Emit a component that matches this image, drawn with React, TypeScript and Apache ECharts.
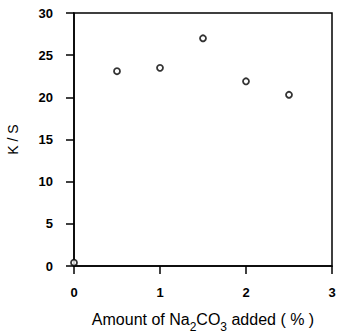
import React, { useEffect, useRef } from "react";
import * as echarts from "echarts";

const naAmounts = [0, 0.5, 1.0, 1.5, 2.0, 2.5];
const ksValues = [0.4, 23.1, 23.5, 27.0, 21.9, 20.3];
const xTicks = [0, 1, 2, 3];
const yTicks = [0, 5, 10, 15, 20, 25, 30];

export default function App() {
  const ref = useRef<HTMLDivElement>(null);
  useEffect(() => {
    if (!ref.current) return;
    const chart = echarts.init(ref.current, null, { renderer: "svg" });
    const font = "'Liberation Sans', Arial, sans-serif";
    chart.setOption({
      animation: false,
      backgroundColor: "#fff",
      grid: {
        left: 74,
        right: 6,
        top: 13,
        bottom: 70,
        outerBoundsMode: "none",
        containLabel: false,
        show: true,
        borderColor: "#000",
        borderWidth: 1.5,
      },
      xAxis: {
        type: "value",
        min: xTicks[0],
        max: xTicks[xTicks.length - 1],
        interval: 1,
        axisLine: { show: true, lineStyle: { color: "#000", width: 1.5 } },
        axisTick: { show: true, length: 8, lineStyle: { color: "#000", width: 1.5 } },
        splitLine: { show: false },
        axisLabel: {
          color: "#000",
          fontSize: 13,
          fontWeight: "bold",
          fontFamily: font,
          margin: 20,
          showMaxLabel: true,
        },
        name: "{a|Amount of Na}{s|2}{a|CO}{s|3}{a| added ( % )}",
        nameLocation: "middle",
        nameGap: 45,
        nameTextStyle: {
          rich: {
            a: { fontSize: 16, fontFamily: font, color: "#000", padding: [0, 0, 7, 0] },
            s: { fontSize: 12, fontFamily: font, color: "#000", padding: [9, 0, 0, 0] },
          },
        },
      },
      yAxis: {
        type: "value",
        min: yTicks[0],
        max: yTicks[yTicks.length - 1],
        interval: 5,
        axisLine: { show: true, lineStyle: { color: "#000", width: 1.5 } },
        axisTick: { show: true, length: 8, lineStyle: { color: "#000", width: 1.5 } },
        splitLine: { show: false },
        axisLabel: { color: "#000", fontSize: 13, fontWeight: "bold", fontFamily: font, margin: 21 },
        name: "K / S",
        nameLocation: "middle",
        nameGap: 54,
        nameTextStyle: { fontSize: 14, fontFamily: font, color: "#000" },
      },
      series: [
        {
          type: "scatter",
          data: naAmounts.map((x, i) => [x, ksValues[i]]),
          symbol: "circle",
          symbolSize: 6,
          itemStyle: { color: "#fff", borderColor: "#000", borderWidth: 1.8 },
          z: 10,
        },
      ],
    });
    return () => chart.dispose();
  }, []);
  return (
    <div
      ref={ref}
      style={{ position: "absolute", left: 0, top: 0, width: 338, height: 336 }}
    />
  );
}
